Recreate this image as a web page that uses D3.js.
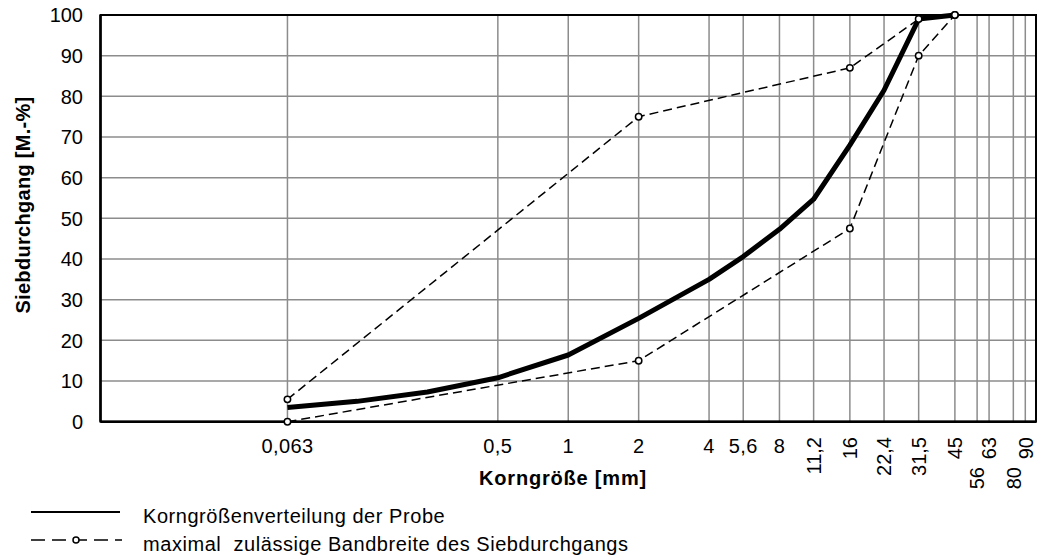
<!DOCTYPE html>
<html>
<head>
<meta charset="utf-8">
<script src="https://cdn.jsdelivr.net/npm/d3@7"></script>
<style>
  body { margin: 0; background: #fff; }
  text { font-family: "Liberation Sans", Arial, sans-serif; fill: #000; white-space: pre; }
</style>
</head>
<body>
<svg id="chart" width="1037" height="557"></svg>
<script>
// sieve sizes on the x axis (mm) and their labels
var sieveSizes = [0.063, 0.5, 1, 2, 4, 5.6, 8, 11.2, 16, 22.4, 31.5, 45, 56, 63, 80, 90];
var sieveLabels = ["0,063", "0,5", "1", "2", "4", "5,6", "8", "11,2", "16", "22,4", "31,5", "45", "56", "63", "80", "90"];
var yTicks = [0, 10, 20, 30, 40, 50, 60, 70, 80, 90, 100];

// grading curve of the sample
var sampleSizes = [0.063, 0.125, 0.25, 0.5, 1, 2, 4, 5.6, 8, 11.2, 16, 22.4, 31.5, 45];
var samplePassing = [3.5, 5, 7.3, 10.8, 16.4, 25.4, 35, 40.6, 47.3, 54.7, 68, 81.5, 99, 100];

// upper and lower limit of the allowed band
var upperSizes = [0.063, 2, 16, 31.5, 45];
var upperPassing = [5.5, 75, 87, 99, 100];
var lowerSizes = [0.063, 2, 16, 31.5, 45];
var lowerPassing = [0, 15, 47.5, 90, 100];

var legendLabels = ["Korngrößenverteilung der Probe", "maximal  zulässige Bandbreite des Siebdurchgangs"];

var svg = d3.select("#chart");
var plotLeft = 100.5, plotRight = 1036, plotTop = 15, plotBottom = 421.7;

var x = d3.scaleLog().domain([0.01, 100]).range([plotLeft, plotRight]);
var y = d3.scaleLinear().domain([0, 100]).range([plotBottom, plotTop]);

function pairs(xs, ys) {
    return xs.map(function(d, i) { return [d, ys[i]]; });
}

// grid
svg.append("g").selectAll("line")
    .data(yTicks)
    .enter().append("line")
    .attr("x1", plotLeft).attr("x2", plotRight)
    .attr("y1", function(d) { return y(d); })
    .attr("y2", function(d) { return y(d); })
    .attr("stroke", "#8c8c8c").attr("stroke-width", 1.5);

svg.append("g").selectAll("line")
    .data(sieveSizes)
    .enter().append("line")
    .attr("x1", function(d) { return x(d); })
    .attr("x2", function(d) { return x(d); })
    .attr("y1", plotTop).attr("y2", plotBottom)
    .attr("stroke", "#8c8c8c").attr("stroke-width", 1.5);

// frame
svg.append("rect")
    .attr("x", plotLeft).attr("y", plotTop)
    .attr("width", plotRight - plotLeft).attr("height", plotBottom - plotTop)
    .attr("fill", "none").attr("stroke", "#000").attr("stroke-width", 2);
svg.append("line")
    .attr("x1", plotLeft).attr("x2", plotRight).attr("y1", plotBottom).attr("y2", plotBottom)
    .attr("stroke", "#000").attr("stroke-width", 2.5);
svg.append("line")
    .attr("x1", plotLeft).attr("x2", plotLeft).attr("y1", plotTop).attr("y2", plotBottom)
    .attr("stroke", "#000").attr("stroke-width", 2.5);

// y tick labels
svg.append("g").selectAll("text")
    .data(yTicks)
    .enter().append("text")
    .attr("x", 83)
    .attr("y", function(d) { return y(d); })
    .attr("dy", "0.36em")
    .attr("text-anchor", "end")
    .style("font-size", "20px")
    .text(function(d) { return d; });

// x tick labels, small ones flat, larger ones turned
var lowered = ["56", "80"];
sieveSizes.forEach(function(s, i) {
    var label = sieveLabels[i];
    if (i < 7) {
        svg.append("text")
            .attr("x", x(s))
            .attr("y", 453)
            .attr("text-anchor", "middle")
            .style("font-size", "20px")
            .style("letter-spacing", "0.4px")
            .text(label);
    } else {
        var yEnd = lowered.indexOf(label) >= 0 ? 467 : 437;
        svg.append("text")
            .attr("transform", "translate(" + x(s) + "," + yEnd + ") rotate(-90)")
            .attr("dy", "0.36em")
            .attr("text-anchor", "end")
            .style("font-size", "20px")
            .text(label);
    }
});

// axis titles
svg.append("text")
    .attr("x", 563).attr("y", 485)
    .attr("text-anchor", "middle")
    .style("font-size", "20px").style("font-weight", "bold")
    .style("letter-spacing", "0.8px")
    .text("Korngröße [mm]");

svg.append("text")
    .attr("transform", "translate(30,205) rotate(-90)")
    .attr("text-anchor", "middle")
    .style("font-size", "20px").style("font-weight", "bold")
    .style("letter-spacing", "0.3px")
    .text("Siebdurchgang [M.-%]");

var line = d3.line()
    .x(function(d) { return x(d[0]); })
    .y(function(d) { return y(d[1]); });

// band limits
[pairs(upperSizes, upperPassing), pairs(lowerSizes, lowerPassing)].forEach(function(pts) {
    svg.append("path")
        .datum(pts)
        .attr("d", line)
        .attr("fill", "none")
        .attr("stroke", "#000")
        .attr("stroke-width", 1.5)
        .attr("stroke-dasharray", "9,5");
});

// sample curve
svg.append("path")
    .datum(pairs(sampleSizes, samplePassing))
    .attr("d", line)
    .attr("fill", "none")
    .attr("stroke", "#000")
    .attr("stroke-width", 5)
    .attr("stroke-linejoin", "round");

// markers of the band
[pairs(upperSizes, upperPassing), pairs(lowerSizes, lowerPassing)].forEach(function(pts) {
    svg.append("g").selectAll("circle")
        .data(pts)
        .enter().append("circle")
        .attr("cx", function(d) { return x(d[0]); })
        .attr("cy", function(d) { return y(d[1]); })
        .attr("r", 3.2)
        .attr("fill", "#fff")
        .attr("stroke", "#000")
        .attr("stroke-width", 1.5);
});

// legend
svg.append("line")
    .attr("x1", 31).attr("x2", 120).attr("y1", 512).attr("y2", 512)
    .attr("stroke", "#000").attr("stroke-width", 2);
svg.append("line")
    .attr("x1", 31).attr("x2", 122).attr("y1", 540).attr("y2", 540)
    .attr("stroke", "#000").attr("stroke-width", 1.5)
    .attr("stroke-dasharray", "14,7");
svg.append("circle")
    .attr("cx", 76).attr("cy", 540).attr("r", 3)
    .attr("fill", "#fff").attr("stroke", "#000").attr("stroke-width", 1.5);

legendLabels.forEach(function(t, i) {
    svg.append("text")
        .attr("x", 143)
        .attr("y", 523 + i * 28)
        .style("font-size", "20px")
        .style("letter-spacing", "0.55px")
        .text(t);
});
</script>
</body>
</html>
